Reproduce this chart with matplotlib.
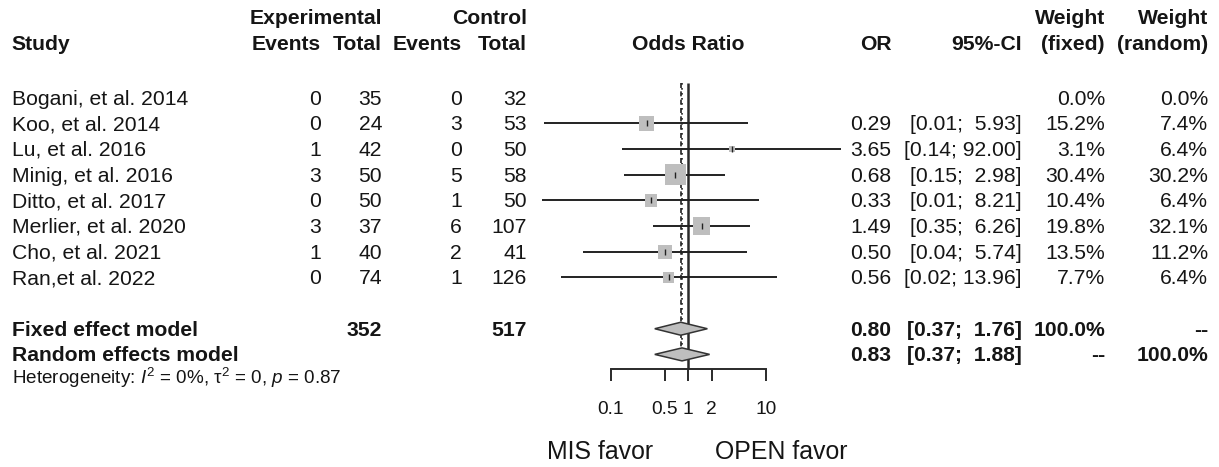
import numpy as np
import matplotlib
matplotlib.use("Agg")
import matplotlib.pyplot as plt
from matplotlib.patches import Polygon

plt.rcParams['font.family'] = ['Liberation Sans', 'DejaVu Sans']
plt.rcParams['mathtext.fontset'] = 'custom'
plt.rcParams['mathtext.rm'] = 'Liberation Sans'
plt.rcParams['mathtext.it'] = 'Liberation Sans:italic'

# study data
studies = ["Bogani, et al. 2014", "Koo, et al. 2014", "Lu, et al. 2016", "Minig, et al. 2016",
           "Ditto, et al. 2017", "Merlier, et al. 2020", "Cho, et al. 2021", "Ran,et al. 2022"]
exp_events = [0, 0, 1, 3, 0, 3, 1, 0]
exp_total = [35, 24, 42, 50, 50, 37, 40, 74]
ctrl_events = [0, 3, 0, 5, 1, 6, 2, 1]
ctrl_total = [32, 53, 50, 58, 50, 107, 41, 126]
or_est = [np.nan, 0.29, 3.65, 0.68, 0.33, 1.49, 0.50, 0.56]
ci_low = [np.nan, 0.014, 0.14, 0.15, 0.013, 0.35, 0.044, 0.023]
ci_up = [np.nan, 5.93, 92.00, 2.98, 8.21, 6.26, 5.74, 13.96]
w_fixed = [0.0, 15.2, 3.1, 30.4, 10.4, 19.8, 13.5, 7.7]
w_random = [0.0, 7.4, 6.4, 30.2, 6.4, 32.1, 11.2, 6.4]

# pooled results
model_names = ["Fixed effect model", "Random effects model"]
model_or = [0.80, 0.83]
model_low = [0.37, 0.37]
model_up = [1.76, 1.88]
model_wf = ["100.0%", "--"]
model_wr = ["--", "100.0%"]
sum_exp = 352
sum_ctrl = 517
ticks = [0.1, 0.5, 1, 2, 10]
tick_labels = ["0.1", "0.5", "1", "2", "10"]

W, H = 1219, 467
ROW0, ROWH = 97.7, 25.67          # pixel y of first row, row height
X1, DEC = 688.3, 77.7             # pixel x of OR=1, pixels per decade
FS = 15.2
INK = '#151515'


def row_of(py):
    return (py - ROW0) / ROWH


fig = plt.figure(figsize=(W / 100, H / 100), dpi=100)
fig.patch.set_facecolor('white')

# text axes: x in pixels, y in rows
axt = fig.add_axes([0, 0, 1, 1])
axt.set_xlim(0, W)
axt.set_ylim(row_of(H), row_of(0))
axt.axis('off')

# forest axes: log x, same rows
axf = fig.add_axes([0, 0, 1, 1])
axf.patch.set_alpha(0)
axf.set_xscale('log')
axf.set_xlim(10 ** (-X1 / DEC), 10 ** ((W - X1) / DEC))
axf.set_ylim(row_of(H), row_of(0))
for s in ['top', 'left', 'right']:
    axf.spines[s].set_visible(False)
axf.yaxis.set_visible(False)
k_axis = row_of(369.3)
axf.spines['bottom'].set_position(('data', k_axis))
axf.spines['bottom'].set_bounds(0.1, 10)
axf.spines['bottom'].set_linewidth(1.4)
axf.spines['bottom'].set_color('#2a2a2a')
axf.set_xticks(ticks)
axf.set_xticklabels(tick_labels)
axf.xaxis.set_minor_locator(matplotlib.ticker.NullLocator())
axf.tick_params(axis='x', direction='out', length=8.9, width=1.4, color='#2a2a2a',
                pad=14, labelsize=13.8, labelcolor=INK)

n = len(studies)
rows = np.arange(n)
model_rows = [n + 1, n + 2]

# reference lines
axf.vlines(1, row_of(83.3), k_axis, color='#2a2a2a', lw=1.8, zorder=3)
axf.vlines(model_or[0], row_of(83.3), model_rows[1], color='#222222', lw=1.2,
           linestyles=(0, (3, 2)), zorder=2)
axf.vlines(model_or[1], row_of(83.3), model_rows[1], color='#222222', lw=1.2,
           linestyles=(0, (1, 2)), zorder=2)

# study CIs and squares
for i in range(n):
    if np.isnan(or_est[i]):
        continue
    axf.hlines(rows[i], ci_low[i], ci_up[i], color='#222222', lw=1.4, zorder=4)
    side_pt = 3.87 * np.sqrt(w_fixed[i]) * 0.72
    axf.scatter([or_est[i]], [rows[i]], marker='s', s=side_pt ** 2, color='#BEBEBE',
                edgecolors='none', zorder=5)
    axf.plot([or_est[i]], [rows[i]], marker='|', ms=5, mew=1.0, color='#222222', zorder=6)

# diamonds
hh = 6.5 / ROWH
for j in range(2):
    k = model_rows[j]
    poly = Polygon([(model_low[j], k), (model_or[j], k - hh), (model_up[j], k),
                    (model_or[j], k + hh)], closed=True, facecolor='#BEBEBE',
                   edgecolor='#333333', lw=1.1, zorder=5)
    axf.add_patch(poly)

# text columns (right edges in pixels)
x_study = 11.5
x_ee, x_et, x_ce, x_ct = 321, 382, 462, 527
x_or, x_ci, x_wf, x_wr = 891.5, 1022, 1105, 1208
off = 0.27


def put(x, k, s, ha='right', bold=False, size=FS):
    axt.text(x, k + off, s, ha=ha, va='baseline', fontsize=size,
             fontweight='bold' if bold else 'normal', color=INK)


# headers
h1 = row_of(17.5)
h2 = row_of(43.5)
put(x_et, h1, "Experimental", bold=True)
put(x_ct, h1, "Control", bold=True)
put(x_wf, h1, "Weight", bold=True)
put(x_wr, h1, "Weight", bold=True)
put(x_study, h2, "Study", ha='left', bold=True)
put(x_ee, h2, "Events", bold=True)
put(x_et, h2, "Total", bold=True)
put(x_ce, h2, "Events", bold=True)
put(x_ct, h2, "Total", bold=True)
put(X1, h2, "Odds Ratio", ha='center', bold=True)
put(x_or, h2, "OR", bold=True)
put(x_ci, h2, "95%-CI", bold=True)
put(x_wf, h2, "(fixed)", bold=True)
put(x_wr, h2, "(random)", bold=True)

for i in range(n):
    put(x_study, rows[i], studies[i], ha='left')
    put(x_ee, rows[i], str(exp_events[i]))
    put(x_et, rows[i], str(exp_total[i]))
    put(x_ce, rows[i], str(ctrl_events[i]))
    put(x_ct, rows[i], str(ctrl_total[i]))
    if not np.isnan(or_est[i]):
        put(x_or, rows[i], f"{or_est[i]:.2f}")
        put(x_ci, rows[i], f"[{ci_low[i]:.2f}; {ci_up[i]:5.2f}]")
    put(x_wf, rows[i], f"{w_fixed[i]:.1f}%")
    put(x_wr, rows[i], f"{w_random[i]:.1f}%")

for j in range(2):
    k = model_rows[j]
    put(x_study, k, model_names[j], ha='left', bold=True)
    put(x_or, k, f"{model_or[j]:.2f}", bold=True)
    put(x_ci, k, f"[{model_low[j]:.2f}; {model_up[j]:5.2f}]", bold=True)
    put(x_wf, k, model_wf[j], bold=True)
    put(x_wr, k, model_wr[j], bold=True)
put(x_et, model_rows[0], str(sum_exp), bold=True)
put(x_ct, model_rows[0], str(sum_ctrl), bold=True)

put(x_study, row_of(377), r"Heterogeneity: $I^2$ = 0%, $\mathrm{\tau}^2$ = 0, $p$ = 0.87",
    ha='left', size=13.6)

# favour labels
put(653, row_of(452), "MIS favor", ha='right', size=17.9)
put(715, row_of(452), "OPEN favor", ha='left', size=17.9)

fig.savefig("out.png", dpi=100)
